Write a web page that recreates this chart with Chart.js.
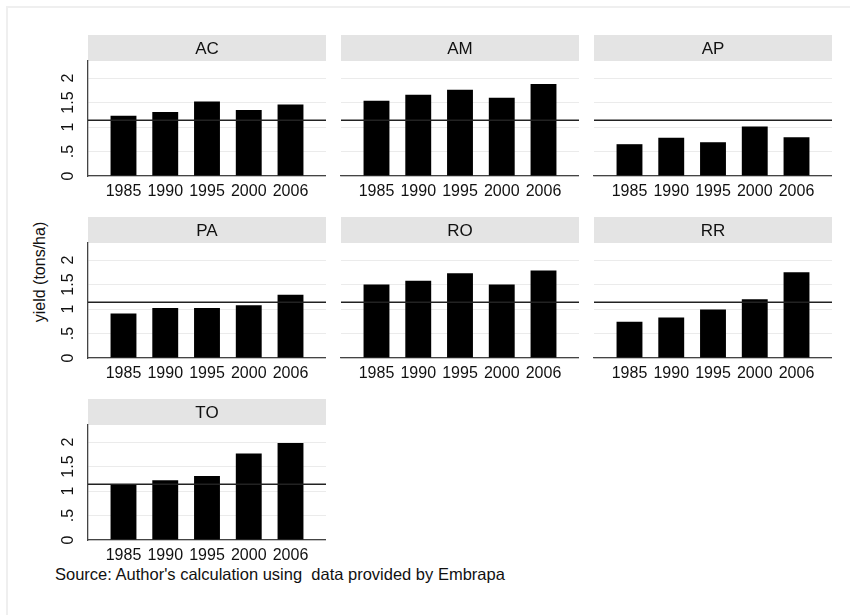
<!DOCTYPE html>
<html>
<head>
<meta charset="utf-8">
<script src="https://cdn.jsdelivr.net/npm/chart.js@4.4.1/dist/chart.umd.min.js"></script>
<style>
  html, body { margin: 0; padding: 0; background: #fff; }
  #wrap { position: relative; width: 850px; height: 615px; overflow: hidden; background: #fff;
          font-family: "Liberation Sans", Arial, sans-serif; color: #111; }
  #frame { position: absolute; left: 6px; top: 6px; width: 900px; height: 700px; border: 2px solid #efefef; }
  canvas.panel { position: absolute; }
  #ytitle { position: absolute; left: 40px; top: 272px; font-size: 16px; white-space: nowrap;
            transform: translate(-50%, -50%) rotate(-90deg); }
  #note { position: absolute; left: 55px; top: 565px; font-size: 16.5px; white-space: nowrap; }
</style>
</head>
<body>
<div id="wrap">
  <div id="frame"></div>
  <div id="ytitle">yield (tons/ha)</div>
  <div id="note">Source: Author's calculation using &nbsp;data provided by Embrapa</div>
</div>
<script>
'use strict';

const years = ['1985', '1990', '1995', '2000', '2006'];
const states = ['AC', 'AM', 'AP', 'PA', 'RO', 'RR', 'TO'];
const yieldAC = [1.23, 1.31, 1.52, 1.35, 1.46];
const yieldAM = [1.54, 1.66, 1.76, 1.60, 1.88];
const yieldAP = [0.65, 0.78, 0.69, 1.01, 0.79];
const yieldPA = [0.91, 1.02, 1.02, 1.08, 1.29];
const yieldRO = [1.50, 1.58, 1.73, 1.50, 1.79];
const yieldRR = [0.74, 0.83, 0.99, 1.20, 1.75];
const yieldTO = [1.14, 1.22, 1.31, 1.77, 1.98];
const meanYield = 1.14;
const yTickLabels = ['0', '.5', '1', '1.5', '2'];

const seriesByState = [yieldAC, yieldAM, yieldAP, yieldPA, yieldRO, yieldRR, yieldTO];

const FONT = '"Liberation Sans", Arial, sans-serif';
const colLeft = [88, 341, 594];
const rowTop = [35, 217, 399];
const axisW = 40, plotW = 238, stripH = 26, plotH = 115, xAxisH = 30;

// grey strip with the panel name above each plot
const stripPlugin = {
  id: 'strip',
  beforeDraw(chart, args, opts) {
    const { ctx, chartArea: { left, right, top } } = chart;
    ctx.save();
    ctx.fillStyle = '#e4e4e4';
    ctx.fillRect(left, top - stripH, right - left, stripH);
    ctx.fillStyle = '#111';
    ctx.font = '17px ' + FONT;
    ctx.textAlign = 'center';
    ctx.textBaseline = 'middle';
    ctx.fillText(opts.text, (left + right) / 2, top - stripH / 2 + 1);
    ctx.restore();
  }
};

function makePanel(i) {
  const col = i % 3, row = Math.floor(i / 3);
  const firstCol = col === 0;
  const canvas = document.createElement('canvas');
  canvas.className = 'panel';
  canvas.width = axisW + plotW;
  canvas.height = stripH + plotH + xAxisH;
  canvas.style.left = (colLeft[col] - axisW) + 'px';
  canvas.style.top = rowTop[row] + 'px';
  document.getElementById('wrap').appendChild(canvas);

  new Chart(canvas, {
    type: 'bar',
    data: {
      datasets: [{
        type: 'bar',
        data: seriesByState[i].map((v, k) => ({ x: k, y: v })),
        backgroundColor: '#000',
        barPercentage: 0.62,
        categoryPercentage: 1,
        order: 2
      }, {
        type: 'line',
        data: [{ x: -0.85, y: meanYield }, { x: 4.85, y: meanYield }],
        borderColor: '#222',
        borderWidth: 1.4,
        pointRadius: 0,
        order: 1
      }]
    },
    options: {
      responsive: false,
      animation: false,
      layout: { padding: { top: stripH, left: 0, right: 0, bottom: 0 } },
      plugins: {
        legend: { display: false },
        tooltip: { enabled: false },
        strip: { text: states[i] }
      },
      scales: {
        x: {
          type: 'linear',
          offset: false,
          min: -0.85,
          max: 4.85,
          grid: { display: false, drawTicks: false },
          border: { color: '#444', width: 1.3 },
          ticks: {
            stepSize: 1,
            includeBounds: false,
            autoSkip: false,
            maxRotation: 0,
            padding: 6,
            color: '#111',
            font: { family: FONT, size: 16 },
            callback: v => years[v] ?? ''
          },
          afterFit(s) { s.height = xAxisH; }
        },
        y: {
          min: 0,
          max: 2.35,
          grid: { color: '#ebebeb', drawTicks: false },
          border: { display: firstCol, color: '#444', width: 1.3 },
          ticks: {
            display: firstCol,
            stepSize: 0.5,
            includeBounds: false,
            minRotation: 90,
            maxRotation: 90,
            crossAlign: 'center',
            padding: 8,
            color: '#111',
            font: { family: FONT, size: 16 },
            callback: v => yTickLabels[Math.round(v * 2)]
          },
          afterFit(s) { s.width = axisW; }
        }
      }
    },
    plugins: [stripPlugin]
  });
}

states.forEach((s, i) => makePanel(i));
</script>
</body>
</html>
